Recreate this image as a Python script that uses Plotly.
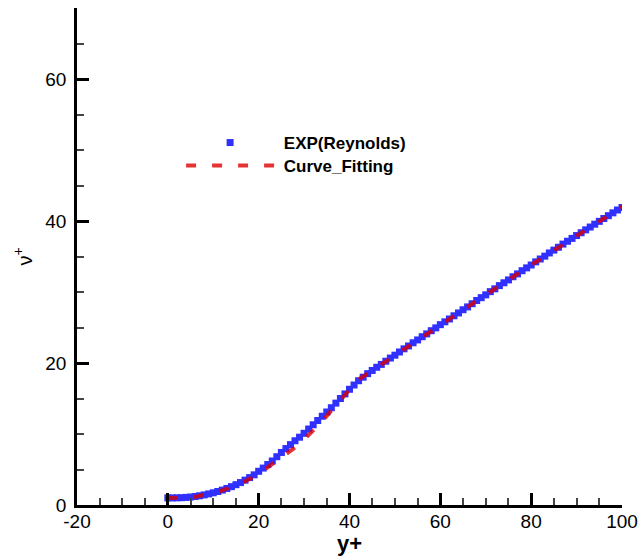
import plotly.graph_objects as go

# Experimental data (Reynolds): y+ vs nu+
exp_yplus = list(range(0, 101))
exp_nuplus = [
    1.00, 1.00, 1.01, 1.03, 1.07, 1.12, 1.20, 1.30, 1.42, 1.56,
    1.72, 1.90, 2.10, 2.33, 2.58, 2.86, 3.16, 3.50, 3.86, 4.25,
    4.75, 5.20, 5.70, 6.20, 6.80, 7.40, 7.95, 8.50, 9.05, 9.55,
    10.10, 10.70, 11.30, 11.90, 12.50, 13.10, 13.70, 14.35, 15.00, 15.65,
    16.30, 16.90, 17.50, 18.00, 18.50, 18.95, 19.40, 19.80, 20.25, 20.70,
    21.10, 21.55, 22.00, 22.40, 22.85, 23.25, 23.70, 24.10, 24.55, 24.95,
    25.40, 25.80, 26.20, 26.65, 27.05, 27.50, 27.90, 28.35, 28.80, 29.20,
    29.60, 30.05, 30.45, 30.90, 31.30, 31.70, 32.15, 32.55, 33.00, 33.40,
    33.80, 34.25, 34.65, 35.05, 35.50, 35.90, 36.30, 36.75, 37.15, 37.55,
    37.95, 38.35, 38.75, 39.15, 39.55, 39.95, 40.35, 40.75, 41.15, 41.55,
    41.90,
]

# Curve fitting
fit_yplus = [0, 2, 4, 6, 8, 10, 12, 14, 16, 18, 20, 22, 24, 26, 28, 30,
             32, 34, 36, 38, 40, 42, 44, 50, 60, 70, 80, 90, 100]
fit_nuplus = [1.0, 1.0, 1.05, 1.15, 1.4, 1.7, 2.05, 2.5, 3.05, 3.65, 4.35,
              5.3, 6.2, 7.1, 8.1, 9.2, 10.5, 11.8, 13.3, 14.8, 16.4, 17.7,
              18.5, 21.1, 25.3, 29.6, 33.8, 37.9, 42.0]

x_ticks = [-20, 0, 20, 40, 60, 80, 100]
x_tick_labels = ["-20", "0", "20", "40", "60", "80", "100"]
y_ticks = [0, 20, 40, 60]
y_tick_labels = ["0", "20", "40", "60"]

FONT = "Arial, Liberation Sans, Helvetica, sans-serif"

fig = go.Figure()
fig.add_trace(go.Scatter(
    x=exp_yplus, y=exp_nuplus, mode="markers",
    name="\u00a0<b>EXP(Reynolds)</b>",
    marker=dict(symbol="square", size=7, color="#3030ff", line=dict(width=0)),
    legend="legend",
))
fig.add_trace(go.Scatter(
    x=fit_yplus, y=fit_nuplus, mode="lines",
    name="\u00a0<b>Curve_Fitting</b>",
    line=dict(color="rgba(220,0,0,0.8)", width=4, dash="10px,16px"),
    legend="legend2",
))

leg_common = dict(
    xanchor="left", yanchor="middle",
    bgcolor="rgba(0,0,0,0)", borderwidth=0,
    font=dict(family=FONT, size=17, color="black"),
    itemwidth=88,
)

fig.update_layout(
    width=639, height=556,
    margin=dict(l=77, r=17, t=8, b=51),
    paper_bgcolor="white", plot_bgcolor="white",
    font=dict(family=FONT, color="black", size=19),
    showlegend=True,
    legend=dict(x=0.191, y=1 - (143 - 8) / 497, **leg_common),
    legend2=dict(x=0.191, y=1 - (166 - 8) / 497, **leg_common),
    xaxis=dict(
        range=[-20, 100], tickvals=x_ticks, ticktext=x_tick_labels,
        ticks="inside", ticklen=12,
        tickwidth=2.5, tickcolor="black", showline=True, linewidth=2.5,
        linecolor="black", showgrid=False, zeroline=False, automargin=False,
        tickfont=dict(size=19), ticklabelstandoff=-3,
        minor=dict(ticks="inside", dtick=5, tick0=0, ticklen=7,
                   tickwidth=1.5, tickcolor="#444444", showgrid=False),
        title=dict(text="<b>y+</b>", font=dict(size=22), standoff=0),
    ),
    yaxis=dict(
        range=[0, 70], tickvals=y_ticks, ticktext=y_tick_labels,
        ticks="inside", ticklen=12,
        tickwidth=2.5, tickcolor="black", showline=True, linewidth=2.5,
        linecolor="black", showgrid=False, zeroline=False, automargin=False,
        tickfont=dict(size=19), ticklabelstandoff=4,
        minor=dict(ticks="inside", dtick=5, tick0=0, ticklen=7,
                   tickwidth=1.5, tickcolor="#444444", showgrid=False),
        title=dict(text="ν<sup>+</sup>", font=dict(size=20), standoff=8),
    ),
)

fig.write_html(
    "out.html",
    config={"displayModeBar": False},
    post_script="document.body.style.margin='0';document.body.style.overflow='hidden';",
)
